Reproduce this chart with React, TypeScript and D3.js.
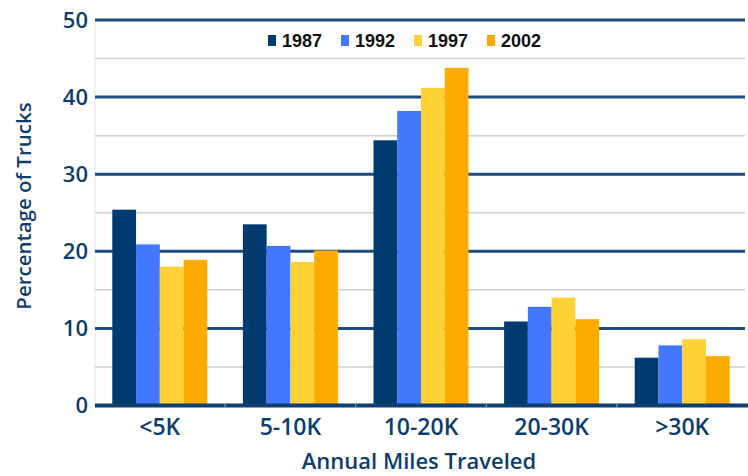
import React from "react";
import * as d3 from "d3";

const categories = ["<5K", "5-10K", "10-20K", "20-30K", ">30K"];
const years = ["1987", "1992", "1997", "2002"];
const v1987 = [25.4, 23.5, 34.4, 10.9, 6.2];
const v1992 = [20.9, 20.7, 38.2, 12.8, 7.8];
const v1997 = [18.0, 18.6, 41.2, 14.0, 8.6];
const v2002 = [18.9, 20.1, 43.8, 11.2, 6.4];
const seriesValues = [v1987, v1992, v1997, v2002];
const colors = ["#003a6e", "#4277fe", "#fed136", "#feab00"];
const majorTicks = [0, 10, 20, 30, 40, 50];
const minorTicks = [5, 15, 25, 35, 45];

const W = 748;
const H = 476;
const navy = "#0e3d6d";

export default function App() {
  const y = d3.scaleLinear().domain([0, 50]).range([405.5, 20]);
  const x0 = d3.scaleBand<string>().domain(categories).range([94.5, 747.5]).padding(0);
  const step = x0.bandwidth();
  const groupW = 95;
  const off = (step - groupW) / 2;
  const x1 = d3.scaleBand<string>().domain(years).range([off, step - off]).padding(0);
  const font = "'Open Sans', 'Noto Sans', sans-serif";

  return (
    <svg width={W} height={H} style={{ position: "absolute", left: 0, top: 0, background: "#fff" }}>
      <rect x={0} y={0} width={W} height={H} fill="#fff" />
      <line x1={95} x2={95} y1={y(50)} y2={y(0)} stroke="#e6e6e6" strokeWidth={1} />
      {minorTicks.map((t) => (
        <line key={"m" + t} x1={95} x2={745} y1={y(t)} y2={y(t)} stroke="#cfcfcf" strokeWidth={1.5} />
      ))}
      {majorTicks.filter((t) => t > 0).map((t) => (
        <line key={"M" + t} x1={95} x2={745} y1={y(t)} y2={y(t)} stroke="#1d4c7e" strokeWidth={3} />
      ))}
      {categories.map((c, ci) => (
        <g key={c} transform={`translate(${x0(c)},0)`}>
          {years.map((yr, si) => {
            const v = seriesValues[si][ci];
            return (
              <rect
                key={yr}
                x={x1(yr)}
                y={y(v)}
                width={x1.bandwidth()}
                height={y(0) - y(v)}
                fill={colors[si]}
              />
            );
          })}
        </g>
      ))}
      <line x1={95} x2={748} y1={y(0)} y2={y(0)} stroke="#0f3e70" strokeWidth={4} />
      {categories.slice(1).map((c) => (
        <line key={"b" + c} x1={x0(c)} x2={x0(c)} y1={y(0) - 2} y2={y(0) + 2} stroke="#8aa3bf" strokeWidth={1} />
      ))}
      {majorTicks.map((t) => (
        <text key={"t" + t} x={88} y={y(t)} dy="0.36em" textAnchor="end" fontFamily={font} fontSize={22} fontWeight={600} fill={navy}>
          {t}
        </text>
      ))}
      {categories.map((c) => (
        <text key={"l" + c} x={(x0(c) as number) + step / 2} y={435} textAnchor="middle" fontFamily={font} fontSize={23} fontWeight={600} fill={navy}>
          {c}
        </text>
      ))}
      <text x={419} y={469} textAnchor="middle" fontFamily={font} fontSize={22} fontWeight={600} fill={navy}>
        Annual Miles Traveled
      </text>
      <text transform={`translate(31,206) rotate(-90)`} textAnchor="middle" fontFamily={font} fontSize={20.5} fontWeight={600} fill={navy}>
        Percentage of Trucks
      </text>
      {years.map((yr, i) => (
        <g key={"lg" + yr} transform={`translate(${268 + i * 73},0)`}>
          <rect x={0} y={35} width={8} height={11} fill={colors[i]} />
          <text x={14} y={47} fontFamily="'Liberation Sans', Arial, sans-serif" fontSize={18} fontWeight={700} fill="#111">
            {yr}
          </text>
        </g>
      ))}
    </svg>
  );
}
